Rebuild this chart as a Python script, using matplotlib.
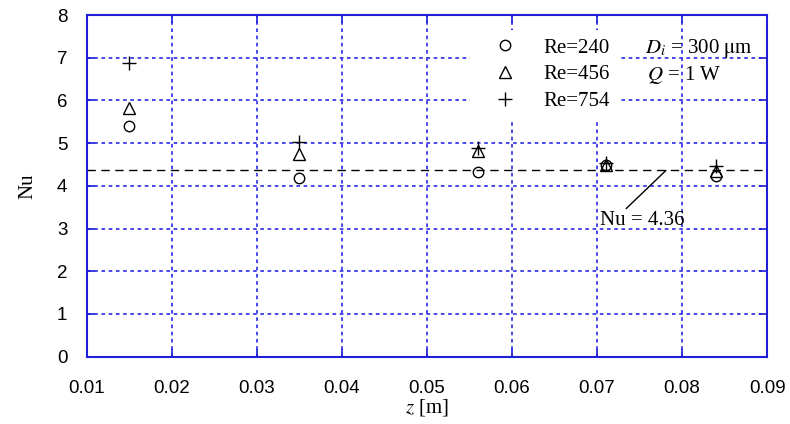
import matplotlib
matplotlib.use("Agg")
import matplotlib.pyplot as plt

# data
z = [0.015, 0.035, 0.056, 0.071, 0.084]
nu_re240 = [5.40, 4.19, 4.32, 4.48, 4.22]
nu_re456 = [5.82, 4.74, 4.82, 4.49, 4.35]
nu_re754 = [6.87, 5.02, 4.89, 4.54, 4.47]
nu_fd = 4.36

x_ticks = [0.01, 0.02, 0.03, 0.04, 0.05, 0.06, 0.07, 0.08, 0.09]
y_ticks = [0, 1, 2, 3, 4, 5, 6, 7, 8]

plt.rcParams['mathtext.fontset'] = 'stix'
blue = '#1f1fd6'
grid_blue = '#3a3ae8'
serif = 'Liberation Serif'
sans = 'Liberation Sans'

fig = plt.figure(figsize=(7.9, 4.24), dpi=100)
ax = fig.add_axes([0.110, 0.1587, 0.861, 0.8059])

ax.set_xlim(0.01, 0.09)
ax.set_ylim(0, 8)
ax.set_xticks(x_ticks)
ax.set_yticks(y_ticks)
ax.set_xticklabels([f"{v:.2f}" for v in x_ticks], fontfamily=sans, fontsize=13.5)
ax.set_yticklabels([str(v) for v in y_ticks], fontfamily=sans, fontsize=13.5)

for s in ax.spines.values():
    s.set_color(blue)
    s.set_linewidth(1.5)
ax.tick_params(direction='in', top=True, right=True, length=6, width=1.2,
               color=blue)
ax.tick_params(axis='x', pad=17)
ax.tick_params(axis='y', pad=14)
ax.grid(True, color=grid_blue, linestyle=(0, (2, 2)), linewidth=1.3)
ax.set_axisbelow(True)

ax.axhline(nu_fd, color='black', linestyle=(0, (6, 4)), linewidth=1.0, zorder=2)

ax.plot(z, nu_re240, linestyle='none', marker='o', ms=7.5, mfc='none',
        mec='black', mew=1.0, label='Re=240', zorder=3)
ax.plot(z, nu_re456, linestyle='none', marker='^', ms=8.5, mfc='none',
        mec='black', mew=1.0, label='Re=456', zorder=3)
ax.plot(z, nu_re754, linestyle='none', marker='+', ms=10.5, mec='black',
        mew=1.0, label='Re=754', zorder=3)

leg = ax.legend(loc='upper left', bbox_to_anchor=(0.563, 0.957), frameon=True,
                prop={'family': serif, 'size': 15}, handlelength=2.6,
                handletextpad=0.55, labelspacing=0.35, borderpad=0.4,
                borderaxespad=0, fancybox=False)
leg.get_frame().set_facecolor('white')
leg.get_frame().set_edgecolor('none')
leg.get_frame().set_alpha(1)
leg.set_zorder(4)

ax.text(0.0756, 7.22, r'$D_i$ = 300 $\mathrm{\mu}$m', fontfamily=serif,
        fontsize=15, va='center', ha='left', zorder=5)
ax.text(0.0759, 6.6, r'$Q$ = 1 W', fontfamily=serif, fontsize=15,
        va='center', ha='left', zorder=5)

ax.annotate('Nu = 4.36', xy=(0.0781, nu_fd), xytext=(0.0704, 3.18),
            fontfamily=serif, fontsize=15, va='center', ha='left',
            arrowprops=dict(arrowstyle='-', color='black', lw=1.0,
                            shrinkA=0, shrinkB=0,
                            relpos=(0.27, 1.0)))

ax.set_xlabel(r'$z$ [m]', fontfamily=serif, fontsize=15, labelpad=0)
ax.set_ylabel('Nu', fontfamily=serif, fontsize=15, labelpad=14)

fig.savefig('out.png', dpi=100)
